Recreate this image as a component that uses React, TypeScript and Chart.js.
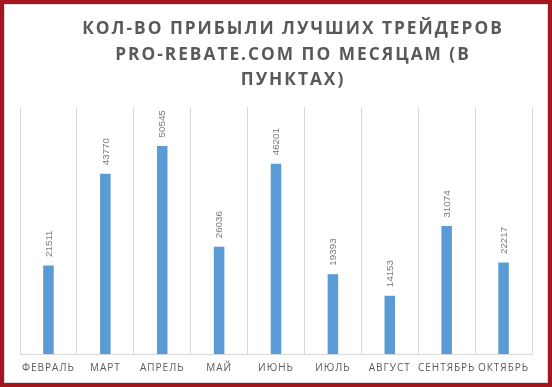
import React, { useEffect, useRef } from "react";
import { Chart, registerables } from "chart.js";

Chart.register(...registerables);

const months = ["ФЕВРАЛЬ", "МАРТ", "АПРЕЛЬ", "МАЙ", "ИЮНЬ", "ИЮЛЬ", "АВГУСТ", "СЕНТЯБРЬ", "ОКТЯБРЬ"];
const profits = [21511, 43770, 50545, 26036, 46201, 19393, 14153, 31074, 22217];
const titleLines = ["КОЛ-ВО ПРИБЫЛИ ЛУЧШИХ ТРЕЙДЕРОВ", "PRO-REBATE.COM ПО МЕСЯЦАМ (В", "ПУНКТАХ)"];
const yMin = 0;
const yMax = 60000;

const styledPlugin = {
  id: "styled",
  beforeDraw(chart: any) {
    chart.ctx.letterSpacing = "1px";
  },
  afterDatasetsDraw(chart: any) {
    const ctx = chart.ctx;
    const meta = chart.getDatasetMeta(0);
    ctx.save();
    ctx.letterSpacing = "0px";
    ctx.font = "9.8px 'Liberation Sans', Arial, sans-serif";
    ctx.fillStyle = "#7a7a7a";
    ctx.textAlign = "left";
    ctx.textBaseline = "middle";
    meta.data.forEach((bar: any, i: number) => {
      ctx.save();
      ctx.translate(bar.x + 0.5, bar.y - 8.5);
      ctx.rotate(-Math.PI / 2);
      ctx.fillText(String(profits[i]), 0, 0);
      ctx.restore();
    });
    ctx.restore();
  },
  afterDraw(chart: any) {
    const ctx = chart.ctx;
    ctx.save();
    ctx.letterSpacing = "2px";
    ctx.font = "bold 17.3px 'Open Sans', sans-serif";
    ctx.fillStyle = "#595959";
    ctx.textAlign = "center";
    ctx.textBaseline = "middle";
    const ys = [24.5, 50, 75.5];
    titleLines.forEach((line, i) => ctx.fillText(line, 288, ys[i]));
    ctx.restore();
  },
};

export default function App() {
  const ref = useRef<HTMLCanvasElement>(null);
  useEffect(() => {
    document.body.style.margin = "0";
    const chart = new Chart(ref.current!, {
      type: "bar",
      data: {
        labels: months,
        datasets: [
          {
            data: profits,
            backgroundColor: "#5b9bd5",
            categoryPercentage: 1,
            barPercentage: 0.185,
          },
        ],
      },
      options: {
        animation: false,
        responsive: true,
        maintainAspectRatio: false,
        layout: { padding: { top: 102, left: 15, right: 15, bottom: 0 } },
        plugins: { legend: { display: false }, title: { display: false }, tooltip: { enabled: false } },
        scales: {
          x: {
            grid: { color: "#d9d9d9", drawTicks: false, offset: true },
            border: { color: "#d9d9d9" },
            ticks: {
              color: "#595959",
              font: { family: "'Open Sans', sans-serif", size: 10 },
              padding: 8,
              maxRotation: 0,
              autoSkip: false,
            },
          },
          y: { display: false, min: yMin, max: yMax },
        },
      },
      plugins: [styledPlugin],
    });
    return () => chart.destroy();
  }, []);
  return (
    <div style={{ width: 552, height: 387, boxSizing: "border-box", border: "4px solid #a5151e" }}>
      <div style={{ width: "100%", height: "100%", boxSizing: "border-box", border: "1px solid #d9d9d9", position: "relative" }}>
        <canvas ref={ref} />
      </div>
    </div>
  );
}
